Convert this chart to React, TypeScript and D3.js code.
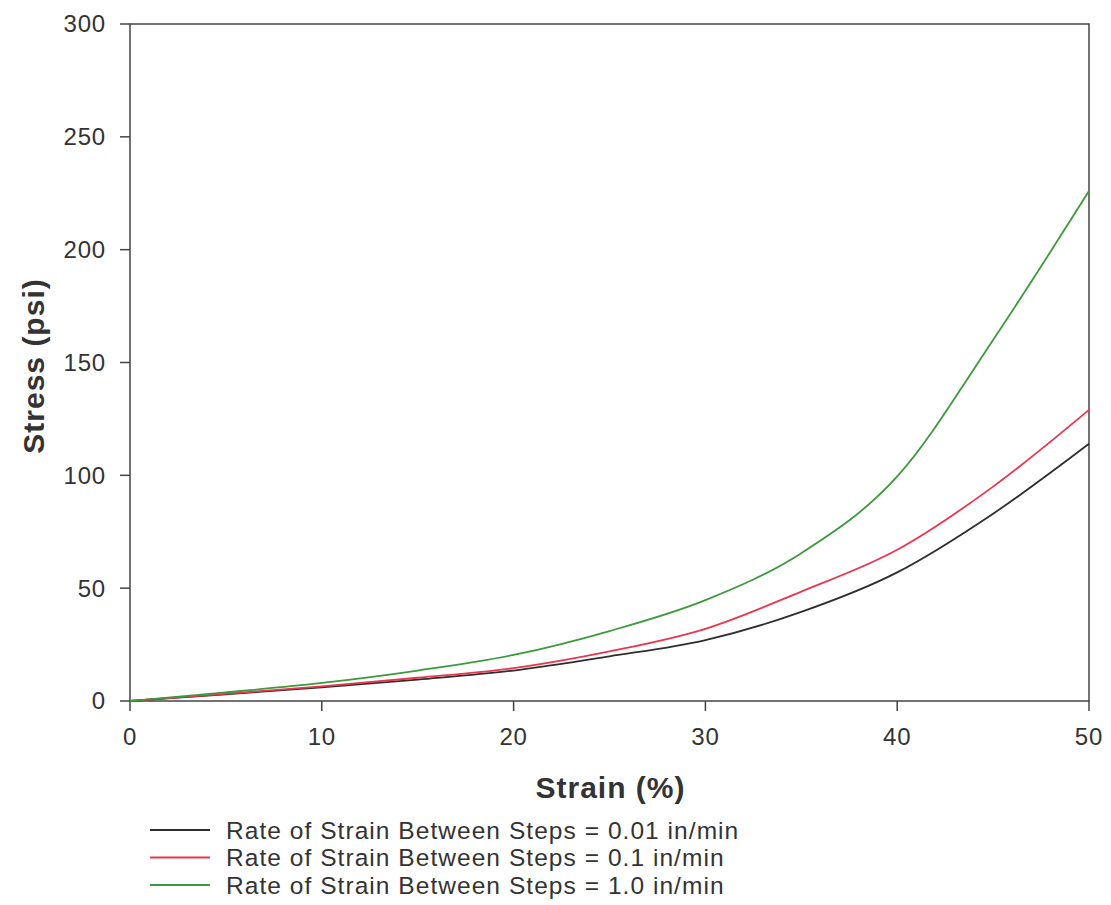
import React from 'react';
import * as d3 from 'd3';

const strain = [0, 5, 10, 15, 20, 25, 30, 35, 40, 45, 50];
const slowRate = [0, 3, 6, 9.5, 13.5, 19.8, 27, 39.5, 57, 83, 114];
const midRate = [0, 3.2, 6.5, 10.3, 14.6, 22, 32, 48.5, 67, 95, 129];
const fastRate = [0, 3.8, 8, 13.5, 20.4, 31, 44.7, 65.5, 99.5, 160, 226];

const xTicks = [0, 10, 20, 30, 40, 50];
const yTicks = [0, 50, 100, 150, 200, 250, 300];

const seriesNames = [
  'Rate of Strain Between Steps = 0.01 in/min',
  'Rate of Strain Between Steps = 0.1 in/min',
  'Rate of Strain Between Steps = 1.0 in/min',
];
const seriesValues = [slowRate, midRate, fastRate];
const seriesColors = ['#2e2e2e', '#e8364e', '#3c9a3c'];

const FONT = '"Liberation Sans", Arial, sans-serif';

export default function App() {
  const width = 1111;
  const height = 905;
  const left = 130;
  const right = 1089;
  const top = 24;
  const bottom = 701;

  const x = d3.scaleLinear().domain([0, 50]).range([left, right]);
  const y = d3.scaleLinear().domain([0, 300]).range([bottom, top]);

  const line = d3
    .line<number>()
    .x((_, i) => x(strain[i]))
    .y((d) => y(d))
    .curve(d3.curveMonotoneX);

  const axisColor = '#444';

  return (
    <svg
      width={width}
      height={height}
      style={{ position: 'absolute', left: 0, top: 0, background: '#fff' }}
    >
      {/* frame */}
      <rect
        x={left}
        y={top}
        width={right - left}
        height={bottom - top}
        fill="none"
        stroke={axisColor}
        strokeWidth={1.5}
      />

      {/* y ticks */}
      {yTicks.map((t) => (
        <g key={'y' + t}>
          <line x1={left - 10} x2={left} y1={y(t)} y2={y(t)} stroke={axisColor} strokeWidth={1.5} />
          <text
            x={left - 24}
            y={y(t)}
            dy="0.35em"
            textAnchor="end"
            fontFamily={FONT}
            fontSize={24}
            letterSpacing={0.8}
            fill="#333"
          >
            {t}
          </text>
        </g>
      ))}

      {/* x ticks */}
      {xTicks.map((t) => (
        <g key={'x' + t}>
          <line x1={x(t)} x2={x(t)} y1={bottom} y2={bottom + 10} stroke={axisColor} strokeWidth={1.5} />
          <text
            x={x(t)}
            y={745}
            textAnchor="middle"
            fontFamily={FONT}
            fontSize={24}
            letterSpacing={0.8}
            fill="#333"
          >
            {t}
          </text>
        </g>
      ))}

      {/* axis titles */}
      <text
        x={(left + right) / 2 + 1}
        y={798}
        textAnchor="middle"
        fontFamily={FONT}
        fontWeight="bold"
        fontSize={30}
        letterSpacing={1}
        fill="#333"
      >
        Strain (%)
      </text>
      <text
        transform={`translate(44,366) rotate(-90)`}
        textAnchor="middle"
        fontFamily={FONT}
        fontWeight="bold"
        fontSize={30}
        letterSpacing={1}
        fill="#333"
      >
        Stress (psi)
      </text>

      {/* curves */}
      {seriesValues.map((vals, i) => (
        <path
          key={'s' + i}
          d={line(vals) || ''}
          fill="none"
          stroke={seriesColors[i]}
          strokeWidth={1.8}
        />
      ))}

      {/* legend */}
      {seriesNames.map((name, i) => (
        <g key={'l' + i} transform={`translate(0,${830 + i * 27.5})`}>
          <line x1={150} x2={210} y1={0} y2={0} stroke={seriesColors[i]} strokeWidth={1.8} />
          <text
            x={226}
            y={0}
            dy="0.35em"
            fontFamily={FONT}
            fontSize={24.5}
            letterSpacing={1.05}
            fill="#333"
          >
            {name}
          </text>
        </g>
      ))}
    </svg>
  );
}
